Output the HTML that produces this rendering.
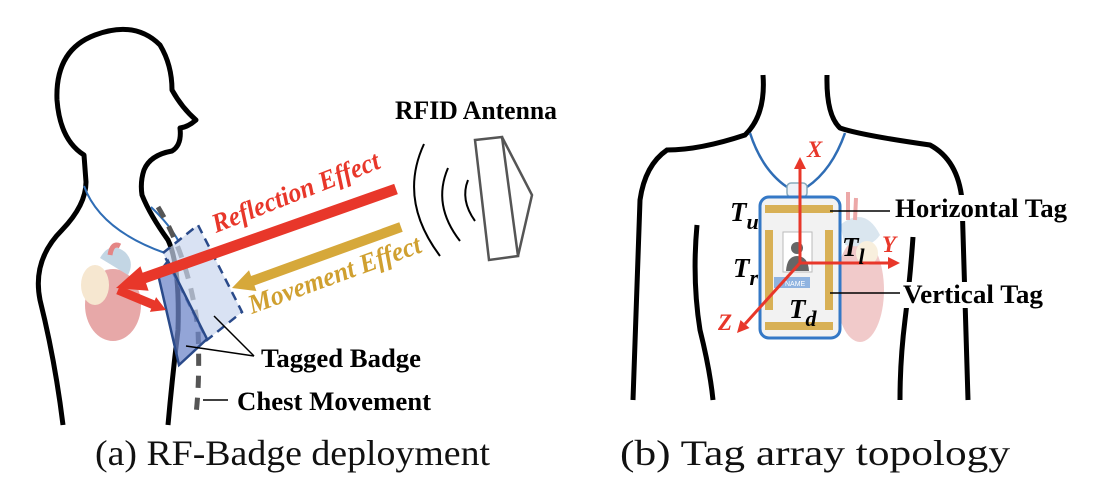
<!DOCTYPE html>
<html><head><meta charset="utf-8"><style>
html,body{margin:0;padding:0;background:#fff;}
svg{display:block;}
.lbl{font-family:"Liberation Serif",serif;font-weight:bold;fill:#000;}
.cap{font-family:"Liberation Serif",serif;font-size:36px;fill:#111;}
</style></head><body>
<svg width="1098" height="498" viewBox="0 0 1098 498" xmlns="http://www.w3.org/2000/svg">

<!-- LEFT FIGURE -->
<g opacity="0.85">
<ellipse cx="113" cy="305" rx="28" ry="36" fill="#e39a9a"/>
<ellipse cx="95" cy="285" rx="14" ry="20" fill="#f5e3c8"/>
<path d="M100,258 Q110,240 125,252 Q135,262 128,275 Z" fill="#b9d0e0"/>
<path d="M110,255 Q112,242 120,246" stroke="#e07070" stroke-width="5" fill="none"/>
</g>
<path d="M63,425 Q55,360 40,300 Q32,260 62,230 Q86,205 86,182 L84,155 Q60,140 57,100 Q55,50 95,35 Q135,20 160,45 Q172,65 172,90 Q182,108 196,120 Q188,127 180,128 Q182,145 172,151 Q150,155 144,170 Q140,182 142,195 Q150,215 168,240 Q180,265 178,330 Q172,380 168,425" fill="none" stroke="#000" stroke-width="5" stroke-linejoin="round"/>
<path d="M84,186 Q100,230 165,253" fill="none" stroke="#2f6db5" stroke-width="2"/>
<path d="M151,207 Q170,225 179,242" fill="none" stroke="#2f6db5" stroke-width="2"/>
<path d="M158,207 Q190,260 198,330 Q200,380 196,414" fill="none" stroke="#555" stroke-width="5" stroke-dasharray="12,10"/>
<polygon points="163,253 198,225 242,312 207,340" fill="#c9d6ee" fill-opacity="0.7" stroke="#2a4a8a" stroke-width="2.5" stroke-dasharray="9,6"/>
<polygon points="158,274 168,261 207,339 179,365" fill="#6f87c9" fill-opacity="0.75" stroke="#2a4a8a" stroke-width="2.5"/>
<!-- red arrow -->
<line x1="396" y1="189" x2="144" y2="278" stroke="#e8372a" stroke-width="11"/>
<polygon points="116,288 148.6,290.8 140.4,266.2" fill="#e8372a"/>
<line x1="118" y1="290" x2="154" y2="305" stroke="#e8372a" stroke-width="9"/>
<polygon points="166,310 149.9,311.9 156.1,297.1" fill="#e8372a"/>
<!-- gold arrow -->
<line x1="401" y1="227" x2="252" y2="281" stroke="#d6a83a" stroke-width="10"/>
<polygon points="232,288 256.4,291 249,270.2" fill="#d6a83a"/>
<text class="lbl" font-size="27" font-style="italic" style="fill:#e8372a" transform="translate(216,233) rotate(-21.5)" textLength="178" lengthAdjust="spacingAndGlyphs">Reflection Effect</text>
<text class="lbl" font-size="27" font-style="italic" style="fill:#d0a030" transform="translate(252,314) rotate(-20)" textLength="182" lengthAdjust="spacingAndGlyphs">Movement Effect</text>
<path d="M424,144 Q398,200 440,256" fill="none" stroke="#000" stroke-width="2"/>
<path d="M448,168 Q432,205 460,241" fill="none" stroke="#000" stroke-width="2"/>
<path d="M468,180 Q460,200 475,221" fill="none" stroke="#000" stroke-width="2"/>
<polygon points="475,140 502,137 518,256 489,260" fill="#fff" stroke="#555" stroke-width="2.5"/>
<polyline points="502,137 532,195 518,256" fill="none" stroke="#555" stroke-width="2.5"/>
<text class="lbl" x="395" y="119" font-size="26" textLength="162" lengthAdjust="spacingAndGlyphs">RFID Antenna</text>
<line x1="254" y1="356" x2="214" y2="316" stroke="#000" stroke-width="1.5"/>
<line x1="254" y1="356" x2="186" y2="346" stroke="#000" stroke-width="1.5"/>
<text class="lbl" x="261" y="367" font-size="26" textLength="160" lengthAdjust="spacingAndGlyphs">Tagged Badge</text>
<line x1="203" y1="400" x2="228" y2="400" stroke="#000" stroke-width="1.5"/>
<text class="lbl" x="237" y="410" font-size="26" textLength="194" lengthAdjust="spacingAndGlyphs">Chest Movement</text>

<text class="cap" x="95" y="465" textLength="395" lengthAdjust="spacingAndGlyphs">(a) RF-Badge deployment</text>

<!-- RIGHT FIGURE -->
<path d="M763,75 Q766,115 745,135 Q700,150 667,150 Q645,165 640,200 L633,400" fill="none" stroke="#000" stroke-width="5"/>
<path d="M827,75 Q826,115 840,128 Q860,135 930,145 Q958,160 962,200 L968,400" fill="none" stroke="#000" stroke-width="5"/>
<path d="M697,225 Q692,280 700,330 Q710,370 713,400" fill="none" stroke="#000" stroke-width="5"/>
<path d="M913,237 Q910,280 905,320 Q900,360 900,400" fill="none" stroke="#000" stroke-width="5"/>
<g opacity="0.6">
<ellipse cx="860" cy="290" rx="24" ry="52" fill="#e8a8a8"/>
<path d="M840,225 Q865,205 880,235 Q870,250 845,245 Z" fill="#c3d6e6"/>
<ellipse cx="867" cy="253" rx="11" ry="12" fill="#f5e6c8"/>
<path d="M848,220 L848,192 M855,220 L856,198" stroke="#e07070" stroke-width="4"/>
</g>
<path d="M750,133 Q762,170 787,187" fill="none" stroke="#2f6db5" stroke-width="2.5"/>
<path d="M845,133 Q832,170 807,187" fill="none" stroke="#2f6db5" stroke-width="2.5"/>
<rect x="787" y="183" width="20" height="14" rx="4" fill="#eef2f8" stroke="#8ab" stroke-width="1.5"/>
<rect x="760" y="197" width="80" height="141" rx="9" fill="#f2f2f2" stroke="#3478c6" stroke-width="3"/>
<rect x="765" y="205" width="68" height="8" fill="#d8b055"/>
<rect x="765" y="322" width="68" height="8" fill="#d8b055"/>
<rect x="765" y="230" width="8" height="80" fill="#d8b055"/>
<rect x="825" y="230" width="8" height="80" fill="#d8b055"/>
<rect x="783" y="232" width="29" height="40" fill="#fff" stroke="#bbb"/>
<circle cx="797" cy="248" r="6" fill="#666"/>
<path d="M786,271 Q787,256 797,256 Q808,256 809,271 Z" fill="#666"/>
<rect x="774" y="277" width="36" height="11" fill="#8fb3e0"/>
<text x="785" y="286" font-family="Liberation Sans,sans-serif" font-size="7" fill="#fff">NAME</text>
<!-- axes -->
<line x1="800" y1="263" x2="800" y2="168" stroke="#e8372a" stroke-width="3"/>
<polygon points="800,157 794,169 806,169" fill="#e8372a"/>
<line x1="800" y1="263" x2="889" y2="263" stroke="#e8372a" stroke-width="3"/>
<polygon points="900,263 888,257 888,269" fill="#e8372a"/>
<line x1="800" y1="263" x2="745" y2="324" stroke="#e8372a" stroke-width="3"/>
<polygon points="737,333 749.5,328 740.5,320" fill="#e8372a"/>
<text class="lbl" x="807" y="157" font-size="23" font-style="italic" style="fill:#e8372a">X</text>
<text class="lbl" x="882" y="252" font-size="23" font-style="italic" style="fill:#e8372a">Y</text>
<text class="lbl" x="718" y="330" font-size="23" font-style="italic" style="fill:#e8372a">Z</text>
<text class="lbl" x="730" y="221" font-size="27" font-style="italic">T<tspan font-size="22" dy="8">u</tspan></text>
<text class="lbl" x="733" y="277" font-size="27" font-style="italic">T<tspan font-size="22" dy="8">r</tspan></text>
<text class="lbl" x="842" y="256" font-size="27" font-style="italic">T<tspan font-size="22" dy="8">l</tspan></text>
<text class="lbl" x="789" y="318" font-size="27" font-style="italic">T<tspan font-size="22" dy="8">d</tspan></text>
<rect x="892" y="195" width="178" height="26" fill="#fff"/>
<rect x="900" y="282" width="165" height="26" fill="#fff"/>
<line x1="830" y1="211" x2="890" y2="211" stroke="#000" stroke-width="1.5"/>
<text class="lbl" x="895" y="217" font-size="26" textLength="172" lengthAdjust="spacingAndGlyphs">Horizontal Tag</text>
<line x1="830" y1="293" x2="900" y2="293" stroke="#000" stroke-width="1.5"/>
<text class="lbl" x="903" y="303" font-size="26" textLength="140" lengthAdjust="spacingAndGlyphs">Vertical Tag</text>

<text class="cap" x="620" y="465" textLength="390" lengthAdjust="spacingAndGlyphs">(b) Tag array topology</text>
</svg>
</body></html>
